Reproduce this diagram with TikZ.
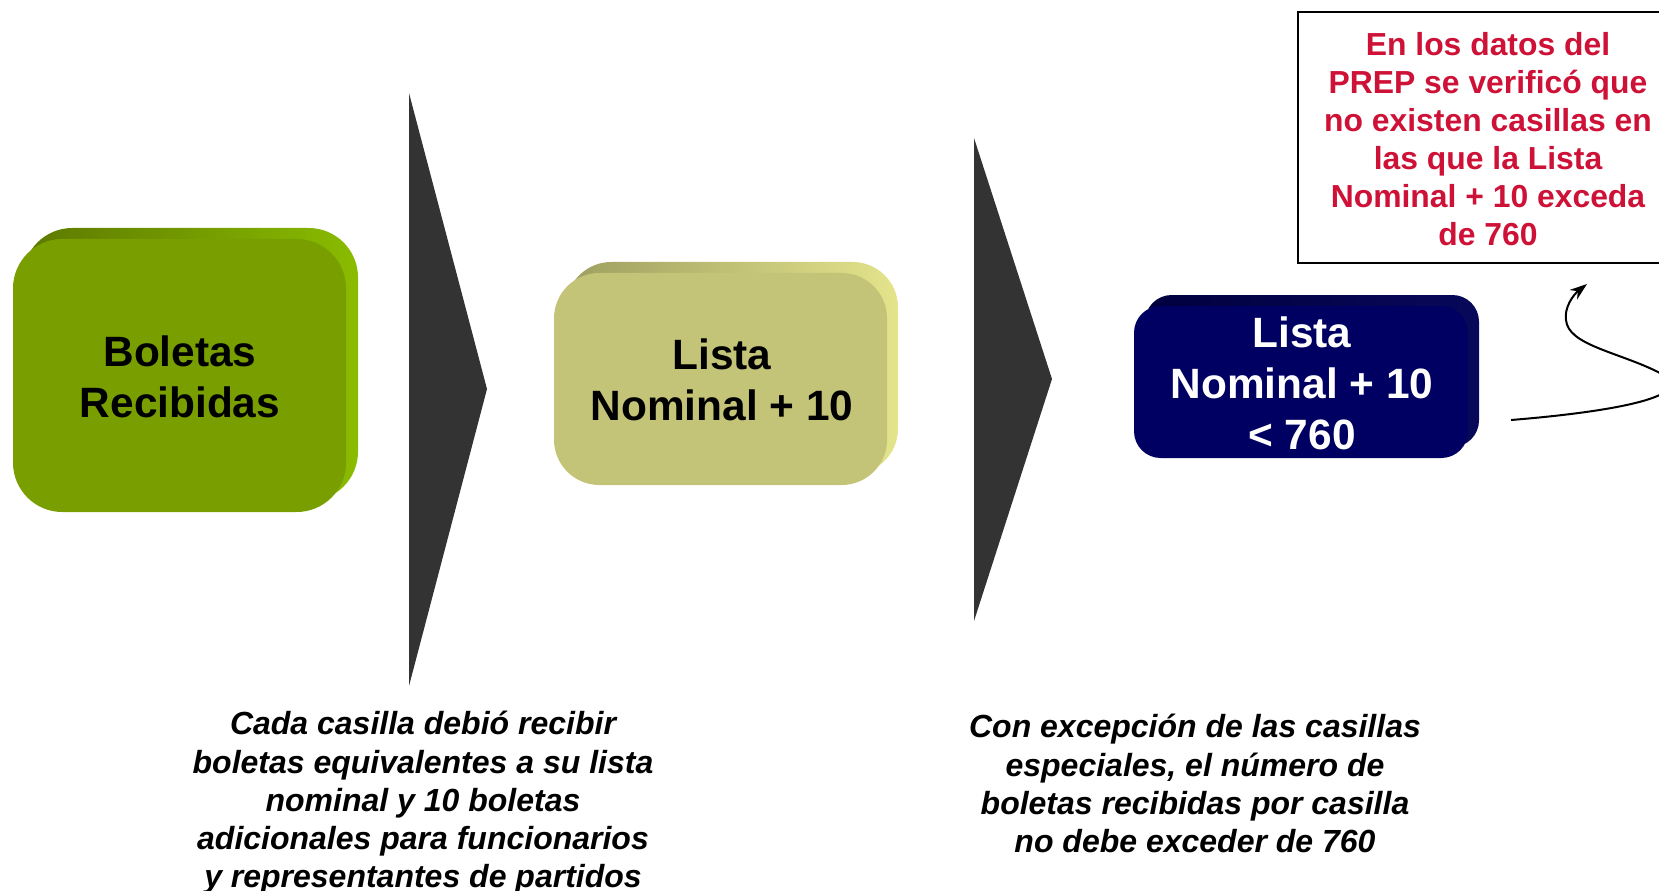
\documentclass[tikz,border=0pt]{standalone}
\usepackage{fontspec}
\setmainfont{Liberation Sans}
\usetikzlibrary{arrows.meta}

\definecolor{boxgreen}{RGB}{120,158,0}
\definecolor{boxgreendark}{RGB}{92,120,0}
\definecolor{boxgreenlight}{RGB}{138,188,0}
\definecolor{boxkhaki}{RGB}{196,196,120}
\definecolor{boxkhakidark}{RGB}{158,158,96}
\definecolor{boxkhakilight}{RGB}{228,228,140}
\definecolor{boxnavy}{RGB}{0,0,98}
\definecolor{boxnavydark}{RGB}{0,0,62}
\definecolor{boxnavylight}{RGB}{8,8,90}
\definecolor{arrowgray}{RGB}{51,51,51}
\definecolor{notered}{RGB}{206,17,54}

\tikzset{every picture/.style={line width=0.75pt}}
\tikzset{
  boxtext/.style={inner sep=0pt, align=center, font=\fontsize{31.8}{38.2}\selectfont\bfseries},
  notetext/.style={inner sep=0pt, align=center, text=notered, font=\fontsize{23.9}{28.6}\selectfont\bfseries},
  foottext/.style={inner sep=0pt, align=center, font=\fontsize{24}{28.6}\selectfont\bfseries\itshape},
}

\begin{document}
\begin{tikzpicture}[x=0.75pt,y=0.75pt,yscale=-1,xscale=1]
	\useasboundingbox (0,0) rectangle (1659,891);
	\clip (0,0) rectangle (1659,891);
	%Rounded Rect green back
	\shade [left color=boxgreendark, right color=boxgreenlight, rounded corners=37pt] (23,228) rectangle (358,501);
	%Rounded Rect green front
	\fill [boxgreen, rounded corners=37pt] (13,239) rectangle (346,512);
	\node [boxtext] (boletas) at (180,377) {Boletas\\Recibidas};

	%Shape: triangle
	\fill [arrowgray] (409,93) -- (487,389) -- (409,686) -- cycle;

	%Rounded Rect khaki back
	\shade [left color=boxkhakidark, right color=boxkhakilight, rounded corners=34pt] (566,262) rectangle (898,474);
	%Rounded Rect khaki front
	\fill [boxkhaki, rounded corners=34pt] (554,273) rectangle (887,485);
	\node [boxtext] (lista) at (722,380) {Lista\\Nominal + 10};

	%Shape: triangle
	\fill [arrowgray] (974,138) -- (1052,379) -- (974,621) -- cycle;

	%Rounded Rect navy back
	\shade [left color=boxnavydark, right color=boxnavylight, rounded corners=20pt] (1145,295) rectangle (1479,447);
	%Rounded Rect navy front
	\fill [boxnavy, rounded corners=20pt] (1134,306) rectangle (1468,458);
	\node [boxtext, text=white] (limite) at (1302,383) {Lista\\Nominal + 10\\< 760};

	%Note box
	\draw [line width=2pt] (1298,12) rectangle (1690,263);
	\node [notetext] (nota) at (1488,139) {En los datos del\\PREP se verificó que\\no existen casillas en\\las que la Lista\\Nominal + 10 exceda\\de 760};

	%Curve Lines
	\coordinate (curvaini) at (1511,420);
	\coordinate (curvafin) at (1587,284);
	\draw [line width=1.5pt, -{Stealth[length=13pt, width=9pt]}] (curvaini) .. controls (1610,412) and (1705,396) .. (1658,372) .. controls (1618,352) and (1568,345) .. (1566,320) .. controls (1564,308) and (1573,295) .. (curvafin);

	\node [foottext, anchor=north] (nota1) at (423,711) {Cada casilla debió recibir\\boletas equivalentes a su lista\\nominal y 10 boletas\\adicionales para funcionarios\\y representantes de partidos};

	\node [foottext, anchor=north] (nota2) at (1195,714) {Con excepción de las casillas\\especiales, el número de\\boletas recibidas por casilla\\no debe exceder de 760};
\end{tikzpicture}
\end{document}
